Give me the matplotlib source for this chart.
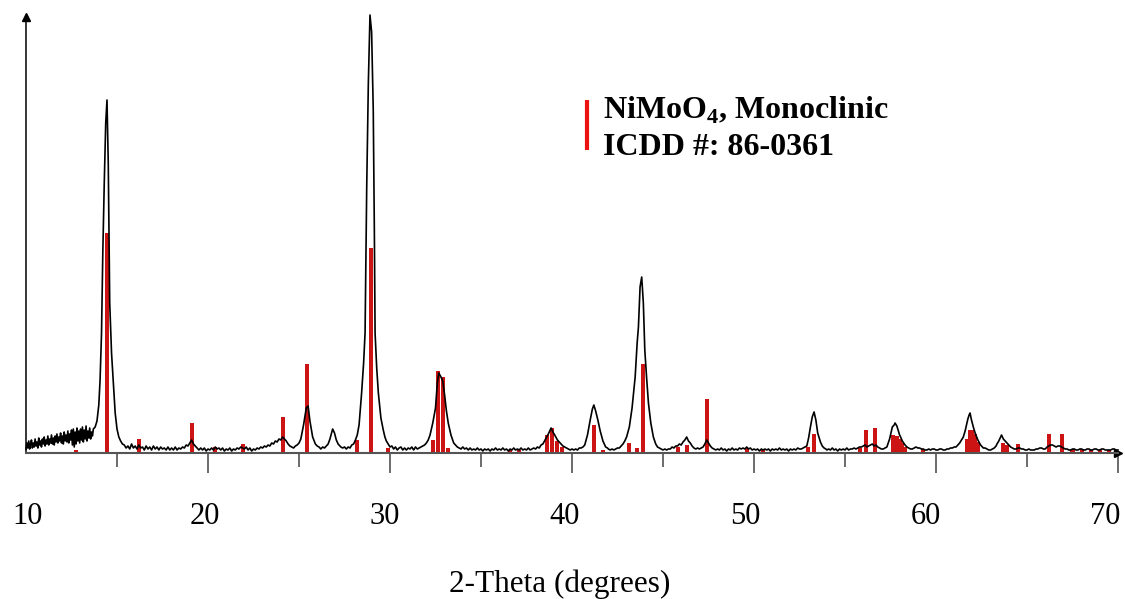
import numpy as np
import matplotlib
matplotlib.use("Agg")
import matplotlib.pyplot as plt
from matplotlib.transforms import ScaledTranslation

plt.rcParams['font.family'] = ['Liberation Serif', 'DejaVu Serif']
plt.rcParams['mathtext.fontset'] = 'custom'
plt.rcParams['mathtext.rm'] = 'Liberation Serif'
plt.rcParams['mathtext.bf'] = 'Liberation Serif:bold'

# measured XRD pattern (2-theta, intensity in arbitrary units)
trace = [
    (10.0, 4), (10.05, 10), (10.1, 5), (10.15, 12), (10.2, 4), (10.25, 9), (10.3, 13), (10.35, 5),
    (10.4, 10), (10.45, 6), (10.5, 14), (10.55, 7), (10.6, 11), (10.65, 5), (10.7, 15), (10.75, 8),
    (10.8, 12), (10.85, 6), (10.9, 14), (10.95, 9), (11.0, 16), (11.05, 7), (11.1, 13), (11.15, 9),
    (11.2, 17), (11.25, 8), (11.3, 14), (11.35, 10), (11.4, 18), (11.45, 9), (11.5, 15), (11.55, 8),
    (11.6, 17), (11.65, 11), (11.7, 19), (11.75, 10), (11.8, 16), (11.85, 12), (11.9, 20), (11.95, 10),
    (12.0, 17), (12.05, 9), (12.1, 21), (12.15, 12), (12.2, 18), (12.25, 11), (12.3, 22), (12.35, 10),
    (12.4, 19), (12.45, 13), (12.5, 23), (12.55, 8), (12.6, 24), (12.65, 6), (12.7, 21), (12.75, 9),
    (12.8, 25), (12.85, 12), (12.9, 22), (12.95, 10), (13.0, 24), (13.05, 13), (13.1, 26), (13.15, 11),
    (13.2, 23), (13.25, 14), (13.3, 27), (13.35, 12), (13.4, 22), (13.45, 15), (13.5, 25), (13.55, 14),
    (13.6, 21), (13.65, 17), (13.7, 24), (13.8, 26), (13.9, 32),
    (14.0, 48), (14.07, 73), (14.15, 120), (14.22, 200), (14.3, 270), (14.38, 330), (14.45, 353),
    (14.52, 290), (14.6, 150), (14.7, 100), (14.8, 70), (14.9, 40), (15.0, 24), (15.1, 16),
    (15.2, 12), (15.3, 9), (15.4, 8), (15.5, 5), (15.6, 7), (15.7, 4), (15.8, 9), (15.9, 5),
    (16.0, 7), (16.1, 4), (16.2, 8), (16.3, 5), (16.4, 6), (16.5, 3), (16.6, 7), (16.7, 4),
    (16.8, 6), (16.9, 3), (17.0, 7), (17.1, 4), (17.2, 6), (17.3, 3), (17.4, 6), (17.5, 4),
    (17.6, 5), (17.7, 3), (17.8, 6), (17.9, 3), (18.0, 5), (18.1, 3), (18.2, 6), (18.3, 3),
    (18.4, 5), (18.5, 4), (18.6, 6), (18.7, 5), (18.8, 8), (18.9, 7), (19.0, 10), (19.1, 13),
    (19.2, 9), (19.3, 7), (19.4, 5), (19.5, 3), (19.6, 5), (19.7, 3), (19.8, 5), (19.9, 2),
    (20.0, 4), (20.1, 3), (20.2, 5), (20.3, 3), (20.4, 6), (20.5, 4), (20.6, 5), (20.7, 3),
    (20.8, 5), (20.9, 2), (21.0, 4), (21.1, 3), (21.2, 5), (21.3, 2), (21.4, 4), (21.5, 3),
    (21.6, 5), (21.7, 4), (21.8, 6), (21.9, 5), (22.0, 4), (22.1, 6), (22.2, 3), (22.3, 5),
    (22.4, 2), (22.5, 4), (22.6, 3), (22.7, 5), (22.8, 4), (22.9, 6), (23.0, 5), (23.1, 7),
    (23.2, 6), (23.3, 8), (23.4, 7), (23.5, 10), (23.6, 9), (23.7, 12), (23.8, 11), (23.9, 14),
    (24.0, 13), (24.1, 16), (24.2, 14), (24.3, 12), (24.4, 9), (24.5, 7), (24.6, 6), (24.7, 5),
    (24.8, 7), (24.9, 8), (25.0, 10), (25.1, 14), (25.25, 28), (25.4, 45), (25.5, 47),
    (25.6, 32), (25.75, 16), (25.9, 9), (26.0, 7), (26.1, 6), (26.2, 4), (26.3, 6), (26.4, 5),
    (26.5, 7), (26.6, 9), (26.7, 14), (26.85, 24), (26.95, 20), (27.05, 13), (27.15, 9),
    (27.3, 6), (27.4, 5), (27.5, 6), (27.6, 4), (27.7, 6), (27.8, 5), (27.9, 8), (28.0, 9),
    (28.1, 13), (28.2, 18), (28.3, 28), (28.44, 60), (28.55, 90), (28.63, 120), (28.72, 265),
    (28.81, 370), (28.9, 438), (28.99, 421), (29.08, 343), (29.14, 223), (29.18, 120),
    (29.27, 85), (29.36, 60), (29.5, 35), (29.63, 23), (29.72, 16), (29.8, 12), (29.9, 9),
    (30.0, 6), (30.1, 7), (30.2, 4), (30.3, 6), (30.4, 3), (30.5, 5), (30.6, 6), (30.7, 3),
    (30.8, 5), (30.9, 3), (31.0, 5), (31.1, 4), (31.2, 6), (31.3, 3), (31.4, 6), (31.5, 4),
    (31.6, 5), (31.7, 6), (31.8, 7), (31.9, 8), (32.0, 10), (32.1, 13), (32.2, 18), (32.35, 30),
    (32.5, 45), (32.6, 70), (32.68, 80), (32.8, 76), (32.9, 72), (33.0, 58), (33.1, 42),
    (33.2, 30), (33.35, 18), (33.5, 10), (33.6, 8), (33.7, 6), (33.8, 5), (33.9, 4), (34.0, 6),
    (34.1, 4), (34.2, 5), (34.3, 3), (34.4, 5), (34.5, 3), (34.6, 4), (34.7, 3), (34.8, 5),
    (34.9, 3), (35.0, 4), (35.1, 2), (35.2, 4), (35.3, 3), (35.4, 4), (35.5, 2), (35.6, 4),
    (35.7, 3), (35.8, 5), (35.9, 3), (36.0, 4), (36.1, 3), (36.2, 5), (36.3, 3), (36.4, 4),
    (36.5, 2), (36.6, 4), (36.7, 3), (36.8, 5), (36.9, 3), (37.0, 4), (37.1, 3), (37.2, 5),
    (37.3, 3), (37.4, 4), (37.5, 3), (37.6, 5), (37.7, 3), (37.8, 4), (37.9, 5), (38.0, 4),
    (38.1, 6), (38.2, 5), (38.3, 8), (38.4, 9), (38.55, 14), (38.7, 19), (38.85, 25),
    (38.95, 21), (39.05, 18), (39.2, 13), (39.35, 10), (39.5, 7), (39.6, 6), (39.7, 5),
    (39.8, 4), (39.9, 3), (40.0, 4), (40.1, 3), (40.2, 4), (40.3, 3), (40.4, 5), (40.5, 5),
    (40.6, 6), (40.7, 8), (40.85, 18), (41.0, 33), (41.12, 44), (41.2, 48), (41.3, 42),
    (41.42, 33), (41.55, 22), (41.7, 12), (41.85, 6), (41.95, 5), (42.0, 4), (42.1, 3),
    (42.2, 4), (42.3, 3), (42.4, 4), (42.5, 5), (42.6, 5), (42.7, 7), (42.8, 9), (42.9, 12),
    (43.0, 16), (43.15, 26), (43.3, 45), (43.47, 76), (43.58, 110), (43.65, 126), (43.74, 166),
    (43.83, 176), (43.92, 150), (44.0, 103), (44.1, 75), (44.2, 50), (44.33, 30), (44.47, 16),
    (44.6, 9), (44.7, 6), (44.8, 5), (44.9, 4), (45.0, 3), (45.1, 4), (45.2, 3), (45.3, 4),
    (45.4, 4), (45.5, 6), (45.6, 5), (45.7, 7), (45.8, 7), (45.9, 9), (46.0, 8), (46.1, 11),
    (46.2, 13), (46.3, 16), (46.4, 12), (46.5, 10), (46.6, 7), (46.7, 5), (46.8, 4), (46.9, 5),
    (47.0, 4), (47.1, 5), (47.2, 6), (47.3, 9), (47.4, 13), (47.5, 10), (47.6, 7), (47.7, 5),
    (47.8, 4), (47.9, 3), (48.0, 4), (48.1, 3), (48.2, 5), (48.3, 3), (48.4, 4), (48.5, 2),
    (48.6, 4), (48.7, 3), (48.8, 5), (48.9, 3), (49.0, 4), (49.1, 3), (49.2, 5), (49.3, 4),
    (49.4, 5), (49.5, 4), (49.6, 6), (49.7, 4), (49.8, 5), (49.9, 3), (50.0, 4), (50.1, 3),
    (50.2, 4), (50.3, 2), (50.4, 4), (50.5, 3), (50.6, 4), (50.7, 3), (50.8, 4), (50.9, 2),
    (51.0, 4), (51.1, 3), (51.2, 4), (51.3, 3), (51.4, 5), (51.5, 3), (51.6, 4), (51.7, 3),
    (51.8, 4), (51.9, 2), (52.0, 4), (52.1, 3), (52.2, 4), (52.3, 3), (52.4, 5), (52.5, 4),
    (52.6, 4), (52.7, 5), (52.8, 6), (52.9, 7), (53.0, 15), (53.1, 26), (53.2, 36), (53.3, 41),
    (53.4, 33), (53.5, 20), (53.65, 11), (53.75, 7), (53.85, 5), (53.95, 4), (54.0, 3),
    (54.1, 4), (54.2, 3), (54.3, 5), (54.4, 3), (54.5, 4), (54.6, 2), (54.7, 4), (54.8, 3),
    (54.9, 4), (55.0, 3), (55.1, 5), (55.2, 3), (55.3, 4), (55.4, 4), (55.5, 5), (55.6, 4),
    (55.7, 5), (55.8, 6), (55.9, 6), (56.0, 7), (56.1, 8), (56.2, 6), (56.3, 7), (56.4, 8),
    (56.5, 9), (56.6, 7), (56.7, 8), (56.8, 6), (56.9, 5), (57.0, 4), (57.1, 4), (57.2, 5),
    (57.3, 6), (57.45, 14), (57.6, 26), (57.7, 28), (57.75, 30), (57.85, 27), (57.9, 24),
    (58.0, 18), (58.08, 15), (58.15, 12), (58.3, 8), (58.4, 6), (58.5, 5), (58.6, 4),
    (58.7, 4), (58.8, 5), (58.9, 6), (59.0, 5), (59.1, 5), (59.2, 4), (59.3, 4), (59.4, 3),
    (59.5, 3), (59.6, 4), (59.7, 3), (59.8, 4), (59.9, 4), (60.0, 3), (60.1, 3), (60.2, 4),
    (60.3, 4), (60.4, 3), (60.5, 3), (60.6, 4), (60.7, 4), (60.8, 5), (60.9, 5), (61.0, 6),
    (61.1, 6), (61.2, 8), (61.3, 10), (61.4, 13), (61.5, 16), (61.6, 22), (61.65, 26),
    (61.75, 34), (61.82, 38), (61.87, 40), (61.95, 33), (62.05, 26), (62.15, 20), (62.3, 13),
    (62.45, 8), (62.55, 6), (62.6, 5), (62.7, 5), (62.8, 4), (62.9, 3), (63.0, 3), (63.1, 4),
    (63.2, 5), (63.3, 7), (63.35, 9), (63.45, 12), (63.5, 14), (63.6, 18), (63.7, 14),
    (63.8, 12), (63.85, 11), (63.95, 9), (64.0, 8), (64.1, 6), (64.2, 5), (64.3, 4), (64.4, 4),
    (64.5, 5), (64.6, 5), (64.7, 4), (64.8, 4), (64.9, 3), (65.0, 3), (65.1, 4), (65.2, 3),
    (65.3, 3), (65.4, 3), (65.5, 4), (65.6, 4), (65.7, 5), (65.8, 5), (65.9, 4), (66.0, 4),
    (66.1, 6), (66.2, 7), (66.3, 8), (66.4, 8), (66.5, 7), (66.6, 6), (66.7, 7), (66.8, 7),
    (66.9, 6), (67.0, 5), (67.1, 4), (67.2, 4), (67.3, 3), (67.4, 3), (67.5, 4), (67.6, 4),
    (67.7, 3), (67.8, 3), (67.9, 4), (68.0, 4), (68.1, 3), (68.2, 3), (68.3, 4), (68.4, 4),
    (68.5, 3), (68.6, 3), (68.7, 4), (68.8, 4), (68.9, 3), (69.0, 3), (69.1, 4), (69.2, 4),
    (69.3, 3), (69.4, 3), (69.5, 3), (69.6, 3), (69.7, 4), (69.8, 4), (69.9, 3), (70.0, 3),
]
two_theta, counts = zip(*trace)

# ICDD 86-0361 reference lines (position, relative height)
ref_pos = [12.75, 14.45, 16.2, 19.12, 20.4, 21.95, 24.1, 25.45, 28.2, 28.97, 29.9,
           32.36, 32.66, 32.92, 33.2, 36.6, 37.1, 38.65, 38.9, 39.15, 39.45, 41.22, 41.7,
           43.13, 43.55, 43.92, 45.8, 46.3, 47.42, 49.6, 50.5, 52.97, 53.32, 55.8,
           56.15, 56.65, 57.65, 57.85, 58.0, 58.15, 58.3, 59.3, 61.7, 61.85, 62.0, 62.15,
           62.3, 63.7, 63.9, 64.5, 66.2, 66.9, 67.5, 68.0, 68.5, 69.0, 69.5]
ref_int = [3, 220, 14, 30, 6, 9, 36, 89, 13, 205, 5,
           13, 82, 76, 5, 3, 3, 18, 25, 12, 6, 28, 3,
           10, 5, 89, 6, 8, 54, 5, 3, 6, 19, 5,
           23, 25, 18, 17, 14, 10, 6, 4, 14, 23, 23, 19,
           11, 10, 8, 9, 19, 19, 4, 4, 3, 3, 3]

tick_labels = ['10', '20', '30', '40', '50', '60', '70']

fig = plt.figure(figsize=(11.25, 5.99), dpi=100)
ax = fig.add_axes([26/1125, 146/599, 1092/1125, 436/599])

ax.bar(ref_pos, ref_int, width=0.22, color='#cc1414', zorder=2)
ax.plot(two_theta, counts, color='black', linewidth=1.2, zorder=3, clip_on=False)

ax.set_xlim(10, 70)
ax.set_ylim(0, 436)

for side in ['top', 'right']:
    ax.spines[side].set_visible(False)
ax.spines['left'].set_color('black')
ax.spines['left'].set_linewidth(1.1)
ax.spines['bottom'].set_color('#555555')
ax.spines['bottom'].set_linewidth(1.5)

ax.set_yticks([])
ax.set_xticks(range(10, 71, 10))
ax.set_xticklabels(tick_labels)
ax.set_xticks(range(15, 70, 10), minor=True)
ax.tick_params(axis='x', which='major', direction='out', length=14.4, width=1.1,
               color='#444444', labelsize=22, pad=21)
ax.tick_params(axis='x', which='minor', direction='out', length=10, width=1.1,
               color='#444444')
ax.xaxis.get_major_ticks()[0].tick1line.set_visible(False)

# the labels sit slightly left of their ticks in the original
shifts = [2, -3, -5, -7, -9, -10, -13]
for lab, dx in zip(ax.get_xticklabels(), shifts):
    lab.set_transform(lab.get_transform() + ScaledTranslation(dx / 100, 0, fig.dpi_scale_trans))

# axis arrows
ax.plot([0], [1], marker='^', markersize=6, color='black', transform=ax.transAxes, clip_on=False)
ax.plot([1], [0], marker='>', markersize=6, color='black', transform=ax.transAxes, clip_on=False)

ax.set_xlabel('2-Theta (degrees)', fontsize=22.5)
ax.xaxis.set_label_coords(0.489, -0.268)

# legend
ax.plot([0.514, 0.514], [0.695, 0.81], color='#ee1111', linewidth=3, transform=ax.transAxes,
        solid_capstyle='butt')
ax.text(0.528, 0.766, r'NiMoO$_\mathbf{4}$, Monoclinic', transform=ax.transAxes,
        fontsize=23, fontweight='bold', va='baseline', ha='left')
ax.text(0.528, 0.683, 'ICDD #: 86-0361', transform=ax.transAxes,
        fontsize=23, fontweight='bold', va='baseline', ha='left')

fig.savefig('out.png', dpi=100)
